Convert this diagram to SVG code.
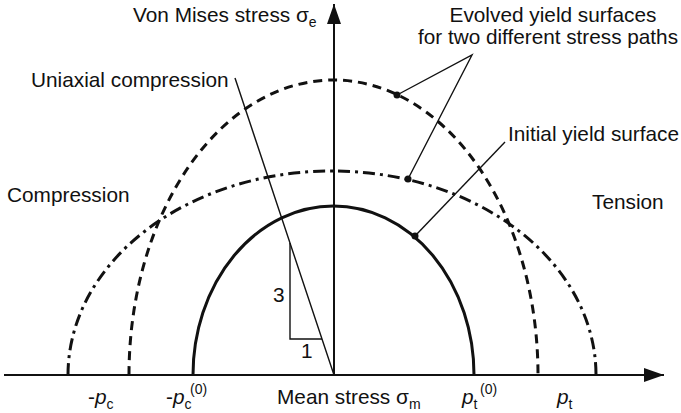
<svg xmlns="http://www.w3.org/2000/svg" width="681" height="413" viewBox="0 0 681 413">
<style>
text{font-family:"Liberation Sans",Arial,sans-serif;font-size:20.8px;fill:#111}
.sub{font-size:14px}
.it{font-style:italic}
.curve{fill:none;stroke:#111;stroke-width:3}
.dash{stroke-dasharray:9 6}
.dashdot{stroke-dasharray:12 5 3 5}
.thin{fill:none;stroke:#111;stroke-width:1.4}
.axis{fill:none;stroke:#111;stroke-width:2}
.dot{fill:#111}
</style>
<defs>
<marker id="ah" markerWidth="20" markerHeight="14" refX="20" refY="7" orient="auto" markerUnits="userSpaceOnUse">
<path d="M0,0 L20,7 L0,14 Z" fill="#111"/>
</marker>
</defs>
<g id="axes">
<line class="axis" x1="4" y1="375" x2="664" y2="375" marker-end="url(#ah)"/>
<line class="axis" x1="334" y1="375" x2="334" y2="4" marker-end="url(#ah)"/>
</g>
<g id="initial-surface">
<path class="curve" d="M193,375 A140.5,169 0 0 1 474,375"/>
</g>
<g id="evolved-dashed">
<path class="curve dash" d="M129,375 A204.5,295 0 0 1 538,375"/>
</g>
<g id="evolved-dashdot">
<path class="curve dashdot" d="M68,375 A264,204 0 0 1 596,375"/>
</g>
<g id="uniaxial">
<line class="thin" x1="235" y1="78" x2="334" y2="375"/>
<polyline class="thin" points="290,243 290,339 322,339"/>
<text x="273" y="302">3</text>
<text x="301" y="358">1</text>
</g>
<g id="connectors">
<polyline class="thin" points="397,95 472,55 408,179"/>
<line class="thin" x1="415" y1="236" x2="505" y2="142"/>
<circle class="dot" cx="397" cy="95" r="3.5"/>
<circle class="dot" cx="408" cy="179" r="3.5"/>
<circle class="dot" cx="415" cy="236" r="3.5"/>
</g>
<g id="labels">
<text x="133" y="22">Von Mises stress σ<tspan class="sub" dy="5">e</tspan></text>
<text x="553" y="22" text-anchor="middle">Evolved yield surfaces</text>
<text x="418" y="44" textLength="260" lengthAdjust="spacingAndGlyphs">for two different stress paths</text>
<text x="31" y="87">Uniaxial compression</text>
<text x="508" y="141">Initial yield surface</text>
<text x="7" y="202">Compression</text>
<text x="592" y="209">Tension</text>
<text x="277" y="404">Mean stress σ<tspan class="sub" dy="5">m</tspan></text>
<text x="88" y="404">-<tspan class="it">p</tspan><tspan class="sub" dy="5">c</tspan></text>
<text x="166" y="404">-<tspan class="it">p</tspan><tspan class="sub" dy="5">c</tspan><tspan class="sub" x="190" dy="-15">(0)</tspan></text>
<text x="462" y="404"><tspan class="it">p</tspan><tspan class="sub" dy="5">t</tspan><tspan class="sub" x="480" dy="-15">(0)</tspan></text>
<text x="557" y="404"><tspan class="it">p</tspan><tspan class="sub" dy="5">t</tspan></text>
</g>
</svg>
